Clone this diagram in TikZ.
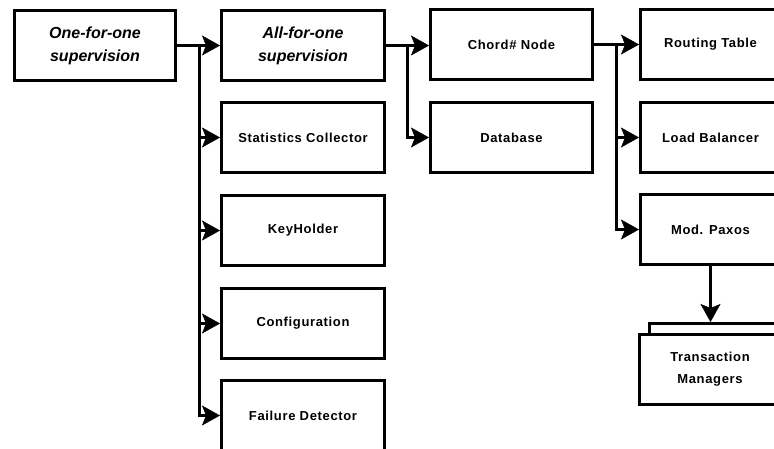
\documentclass[tikz,border=0pt]{standalone}
\usepackage{fontspec}
\setmainfont{Liberation Sans}
\newfontfamily\spacedfont{Liberation Sans}[LetterSpace=5]
\usetikzlibrary{arrows.meta}
\begin{document}
\begin{tikzpicture}[x=1pt,y=-1pt,
  box/.style={draw, line width=3pt, fill=white, anchor=north west, inner sep=0pt,
    align=center, minimum height=70pt,
    font=\spacedfont\bfseries\fontsize{13}{22}\selectfont},
  itbox/.style={box, font=\bfseries\itshape\fontsize{16}{23}\selectfont},
  arr/.style={line width=3pt, -{Stealth[length=18pt,width=20pt,inset=4pt,line width=0.5pt]}},
  conn/.style={line width=3pt}]
\useasboundingbox (0,0) rectangle (774,448);
\fill[white] (0,0) rectangle (774,448);
\clip (0,0) rectangle (774,448);
% column 1
\node[itbox, minimum width=161pt] (one) at (13,9) {One-for-one\\supervision};
% column 2
\node[itbox, minimum width=163pt] (all) at (220,9) {All-for-one\\supervision};
\node[box, minimum width=163pt] (stat) at (220,101) {Statistics Collector};
\node[box, minimum width=163pt] (key) at (220,194) {KeyHolder};
\node[box, minimum width=163pt] (conf) at (220,287) {Configuration};
\node[box, minimum width=163pt] (fail) at (220,379) {Failure Detector};
% column 3
\node[box, minimum width=162pt] (chord) at (429,8) {Chord\# Node};
\node[box, minimum width=162pt] (db) at (429,101) {Database};
% column 4
\node[box, minimum width=140pt] (rt) at (639,8) {Routing Table};
\node[box, minimum width=140pt] (lb) at (639,101) {Load Balancer};
\node[box, minimum width=140pt] (mp) at (639,193) {Mod. Paxos};
\node[box, minimum width=142pt, minimum height=60pt] (tmb) at (648,322) {};
\node[box, minimum width=141pt, minimum height=70pt] (tm) at (638,333) {Transaction\\Managers};
% buses
\coordinate (b1) at ([xshift=22pt]one.east);
\coordinate (b2) at ([xshift=21pt]all.east);
\coordinate (b3) at ([xshift=22pt]chord.east);
% connectors
\draw[arr] (one.east) -- (all.west);
\draw[arr] (b1) |- (stat.west);
\draw[arr] (b1) |- (key.west);
\draw[arr] (b1) |- (conf.west);
\draw[arr] (b1) |- (fail.west);
\draw[arr] (all.east) -- (all.east -| chord.west);
\draw[arr] (b2) |- (db.west);
\draw[arr] (chord.east) -- (rt.west);
\draw[arr] (b3) |- (lb.west);
\draw[arr] (b3) |- (mp.west);
\draw[arr] (mp.south) -- (mp.south |- tmb.north);
\end{tikzpicture}
\end{document}
